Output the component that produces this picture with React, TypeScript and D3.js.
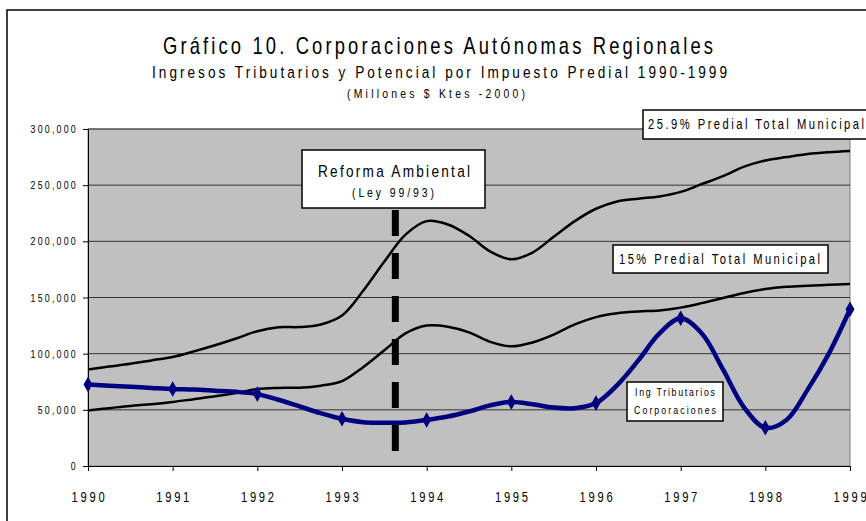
import React, { useEffect, useRef } from 'react';
import * as d3 from 'd3';

// quarterly periods 1990 - 1999
const periods = [
  1990, 1990.25, 1990.5, 1990.75, 1991, 1991.25, 1991.5, 1991.75,
  1992, 1992.25, 1992.5, 1992.75, 1993, 1993.25, 1993.5, 1993.75,
  1994, 1994.25, 1994.5, 1994.75, 1995, 1995.25, 1995.5, 1995.75,
  1996, 1996.25, 1996.5, 1996.75, 1997, 1997.25, 1997.5, 1997.75,
  1998, 1998.25, 1998.5, 1998.75, 1999
];

// 25.9% Predial Total Municipal
const predial259 = [
  86000, 88500, 91000, 94000, 97000, 102000, 107500, 113500,
  120000, 123500, 123700, 126000, 134000, 156000, 182000, 206000,
  218000, 215000, 205000, 191000, 184000, 190000, 204000, 218000,
  229000, 235500, 238000, 240000, 244000, 251000, 258000, 266500,
  272000, 275000, 277700, 279300, 280400
];

// 15% Predial Total Municipal
const predial15 = [
  49500, 51500, 53500, 55000, 57000, 59500, 62000, 65000,
  68500, 69500, 69700, 71500, 75500, 88000, 103000, 118000,
  125000, 124000, 119000, 110500, 106500, 110000, 117000, 126000,
  132500, 136000, 137500, 138500, 141000, 145000, 149500, 154000,
  157500, 159500, 160500, 161300, 162000
];

// Ing Tributarios Corporaciones
const ingTributarios = [
  72500, 71500, 70500, 69500, 68500, 68000, 67000, 66000,
  64000, 59000, 53000, 47000, 42000, 39000, 38600, 38800,
  41000, 44000, 48500, 54000, 57000, 55000, 52000, 51500,
  56000, 72000, 94000, 118000, 131500, 118000, 86000, 52000,
  34000, 41000, 68000, 100000, 139500
];

const yearTicks = [1990, 1991, 1992, 1993, 1994, 1995, 1996, 1997, 1998, 1999];
const valueTicks = [0, 50000, 100000, 150000, 200000, 250000, 300000];
const reformYear = 1993.63;

const FONT = "'Liberation Sans', Arial, sans-serif";
const SX = 0.8; // narrow the glyphs like Arial Narrow

function App() {
  const ref = useRef(null);

  useEffect(() => {
    const svg = d3.select(ref.current);
    svg.selectAll('*').remove();

    const x = d3.scaleLinear().domain([1990, 1999]).range([88, 850]);
    const y = d3.scaleLinear().domain([0, 300000]).range([466, 129]);

    // narrow text helper
    const ntext = (tx, ty, t, size, opts = {}) => {
      const el = svg.append('text')
        .attr('transform', `translate(${tx},${ty}) scale(${SX},1)`)
        .attr('font-family', FONT).attr('font-size', size)
        .attr('fill', 'black')
        .attr('text-anchor', opts.anchor || 'start')
        .text(t);
      if (opts.len) el.attr('textLength', opts.len / SX).attr('lengthAdjust', 'spacing');
      if (opts.ls) el.attr('letter-spacing', opts.ls);
      return el;
    };

    // outer chart border
    svg.append('rect')
      .attr('x', 7).attr('y', 10).attr('width', 880).attr('height', 530)
      .attr('fill', 'white').attr('stroke', 'black').attr('stroke-width', 1.5);

    // titles
    ntext(163, 54, 'Gráfico 10. Corporaciones Autónomas Regionales', 23, { len: 550 });
    ntext(152, 78, 'Ingresos Tributarios y Potencial por Impuesto Predial 1990-1999', 17, { len: 575 });
    ntext(347, 98, '(Millones $ Ktes -2000)', 13, { len: 178 });

    // plot area
    svg.append('rect')
      .attr('x', x(1990)).attr('y', y(300000))
      .attr('width', x(1999) - x(1990)).attr('height', y(0) - y(300000))
      .attr('fill', '#c0c0c0').attr('stroke', '#808080');

    // gridlines
    svg.append('g').selectAll('line')
      .data(valueTicks.filter(v => v > 0))
      .enter().append('line')
      .attr('x1', x(1990)).attr('x2', x(1999))
      .attr('y1', d => y(d)).attr('y2', d => y(d))
      .attr('stroke', '#333').attr('stroke-width', 1);

    // y axis
    const yAxis = svg.append('g').attr('transform', `translate(${x(1990)},0)`)
      .call(d3.axisLeft(y).tickValues(valueTicks).tickSize(5).tickSizeOuter(0)
        .tickFormat(() => ''));
    yAxis.select('.domain').attr('stroke', 'black');
    valueTicks.forEach(v => {
      ntext(78, y(v) + 4, d3.format(',')(v), 11, { anchor: 'end', ls: 2.8 });
    });

    // x axis
    svg.append('g').attr('transform', `translate(0,${y(0)})`)
      .call(d3.axisBottom(x).tickValues(yearTicks).tickSize(5).tickSizeOuter(0)
        .tickFormat(() => ''));
    yearTicks.forEach(yr => {
      ntext(x(yr) + 1.5, 502, String(yr), 14, { anchor: 'middle', ls: 3.4 });
    });

    const line = (vals) => d3.line()
      .x((d, i) => x(periods[i]))
      .y(d => y(d))
      .curve(d3.curveCatmullRom.alpha(0.5))(vals);

    svg.append('path').attr('d', line(predial259))
      .attr('fill', 'none').attr('stroke', 'black').attr('stroke-width', 2.5);
    svg.append('path').attr('d', line(predial15))
      .attr('fill', 'none').attr('stroke', 'black').attr('stroke-width', 2.5);

    // reform dashed line
    svg.append('line')
      .attr('x1', x(reformYear)).attr('x2', x(reformYear))
      .attr('y1', 210).attr('y2', y(10000))
      .attr('stroke', 'black').attr('stroke-width', 7)
      .attr('stroke-dasharray', '26 17');

    svg.append('path').attr('d', line(ingTributarios))
      .attr('fill', 'none').attr('stroke', '#000080').attr('stroke-width', 4.5)
      .attr('stroke-linejoin', 'round');

    // markers at each year
    const diamond = d3.symbol().type(d3.symbolDiamond).size(70);
    svg.append('g').selectAll('path')
      .data(periods.map((p, i) => [p, ingTributarios[i]]).filter(d => d[0] % 1 === 0))
      .enter().append('path')
      .attr('d', diamond)
      .attr('transform', d => `translate(${x(d[0])},${y(d[1])})`)
      .attr('fill', '#000080');

    // annotation boxes
    const box = (bx, by, bw, bh, lines) => {
      svg.append('rect')
        .attr('x', bx).attr('y', by).attr('width', bw).attr('height', bh)
        .attr('fill', 'white').attr('stroke', 'black').attr('stroke-width', 1.5);
      lines.forEach(l => ntext(l.x, l.y, l.t, l.size, { len: l.len }));
    };

    box(302, 150, 183, 58, [
      { t: 'Reforma Ambiental', x: 318, y: 177, size: 17, len: 152 },
      { t: '(Ley 99/93)', x: 352, y: 197, size: 13, len: 82 }
    ]);
    box(643, 110, 230, 29, [
      { t: '25.9%  Predial Total Municipal', x: 648, y: 129, size: 14, len: 216 }
    ]);
    box(613, 245, 215, 28, [
      { t: '15%  Predial Total Municipal', x: 619, y: 264, size: 14, len: 201 }
    ]);
    box(627, 382, 96, 39, [
      { t: 'Ing Tributarios', x: 635, y: 396, size: 11, len: 80 },
      { t: 'Corporaciones', x: 634, y: 414, size: 11, len: 82 }
    ]);
  }, []);

  return (
    <svg ref={ref} width="866" height="521"
      style={{ position: 'absolute', left: 0, top: 0, background: 'white' }}>
    </svg>
  );
}

export default App;
